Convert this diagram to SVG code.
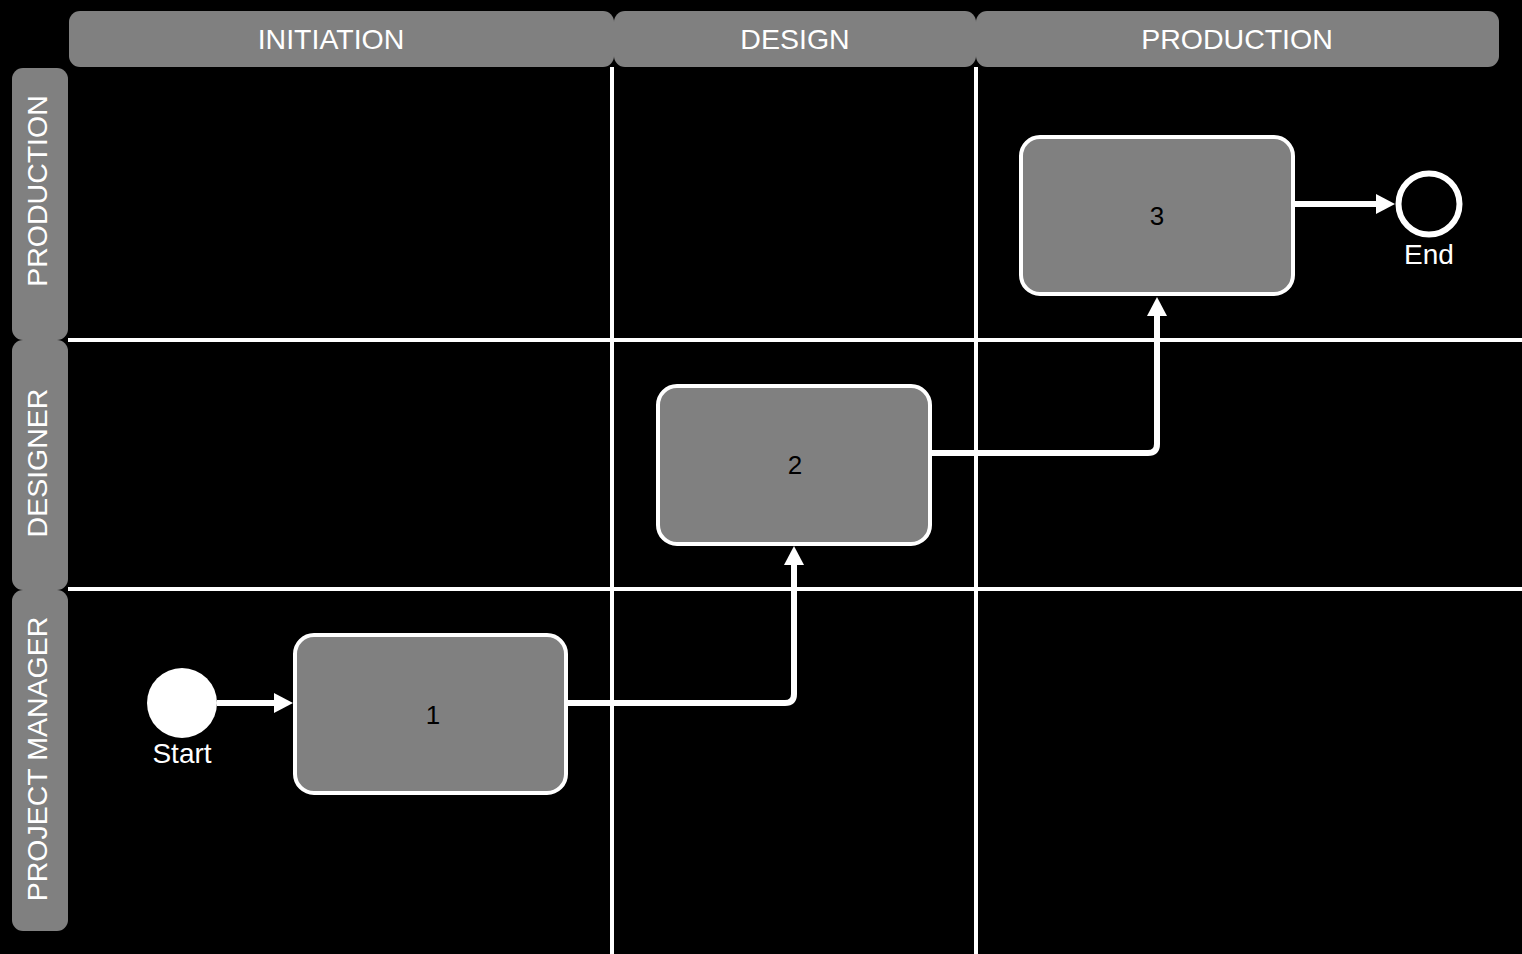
<svg xmlns="http://www.w3.org/2000/svg" width="1522" height="954" viewBox="0 0 1522 954">
  <style>
    .hdr { fill: #808080; }
    .hdrtxt { font-family: "Liberation Sans", Arial, sans-serif; font-size: 28.5px; fill: #ffffff; text-anchor: middle; }
    .sep { stroke: #ffffff; stroke-width: 4; fill: none; }
    .task { fill: #808080; stroke: #ffffff; stroke-width: 4; }
    .tasktxt { font-family: "Liberation Sans", Arial, sans-serif; font-size: 26px; fill: #000000; text-anchor: middle; }
    .evtxt { font-family: "Liberation Sans", Arial, sans-serif; font-size: 28px; fill: #ffffff; text-anchor: middle; }
    .flow { stroke: #ffffff; stroke-width: 6; fill: none; }
  </style>
  <defs>
    <marker id="arrow" markerUnits="userSpaceOnUse" markerWidth="20" markerHeight="20" viewBox="0 0 19 20" refX="1" refY="10" orient="auto">
      <path d="M0,0 L19,10 L0,20 z" fill="#ffffff"/>
    </marker>
  </defs>
  <rect x="0" y="0" width="1522" height="954" fill="#000000"/>

  <g id="pool-lines">
    <line class="sep" x1="612" y1="67" x2="612" y2="954"/>
    <line class="sep" x1="976" y1="67" x2="976" y2="954"/>
    <line class="sep" x1="68" y1="340" x2="1522" y2="340"/>
    <line class="sep" x1="68" y1="589" x2="1522" y2="589"/>
  </g>

  <g id="phase-initiation">
    <rect class="hdr" x="69" y="11" width="545" height="56" rx="11"/>
    <text class="hdrtxt" x="331" y="49">INITIATION</text>
  </g>
  <g id="phase-design">
    <rect class="hdr" x="614" y="11" width="362" height="56" rx="11"/>
    <text class="hdrtxt" x="795" y="49">DESIGN</text>
  </g>
  <g id="phase-production">
    <rect class="hdr" x="976" y="11" width="523" height="56" rx="11"/>
    <text class="hdrtxt" x="1237" y="49">PRODUCTION</text>
  </g>

  <g id="lane-production">
    <rect class="hdr" x="12" y="68" width="56" height="272" rx="11"/>
    <text class="hdrtxt" transform="translate(47,191) rotate(-90)">PRODUCTION</text>
  </g>
  <g id="lane-designer">
    <rect class="hdr" x="12" y="340" width="56" height="250" rx="11"/>
    <text class="hdrtxt" transform="translate(47,463) rotate(-90)">DESIGNER</text>
  </g>
  <g id="lane-pm">
    <rect class="hdr" x="12" y="590" width="56" height="341" rx="11"/>
    <text class="hdrtxt" transform="translate(47,759) rotate(-90)">PROJECT MANAGER</text>
  </g>

  <g id="connectors">
    <path class="flow" d="M217,703 L275,703" marker-end="url(#arrow)"/>
    <path class="flow" d="M567,703 L785,703 Q794,703 794,694 L794,564" marker-end="url(#arrow)"/>
    <path class="flow" d="M931,453 L1148,453 Q1157,453 1157,444 L1157,315" marker-end="url(#arrow)"/>
    <path class="flow" d="M1294,204 L1377,204" marker-end="url(#arrow)"/>
  </g>

  <g id="start">
    <circle cx="182" cy="703" r="35" fill="#ffffff"/>
    <text class="evtxt" x="182" y="763">Start</text>
  </g>
  <g id="task-1">
    <rect class="task" x="295" y="635" width="271" height="158" rx="19"/>
    <text class="tasktxt" x="433" y="724">1</text>
  </g>
  <g id="task-2">
    <rect class="task" x="658" y="386" width="272" height="158" rx="19"/>
    <text class="tasktxt" x="795" y="474">2</text>
  </g>
  <g id="task-3">
    <rect class="task" x="1021" y="137" width="272" height="157" rx="19"/>
    <text class="tasktxt" x="1157" y="225">3</text>
  </g>
  <g id="end">
    <circle cx="1429" cy="204" r="30.5" fill="#000000" stroke="#ffffff" stroke-width="6"/>
    <text class="evtxt" x="1429" y="264">End</text>
  </g>
</svg>
